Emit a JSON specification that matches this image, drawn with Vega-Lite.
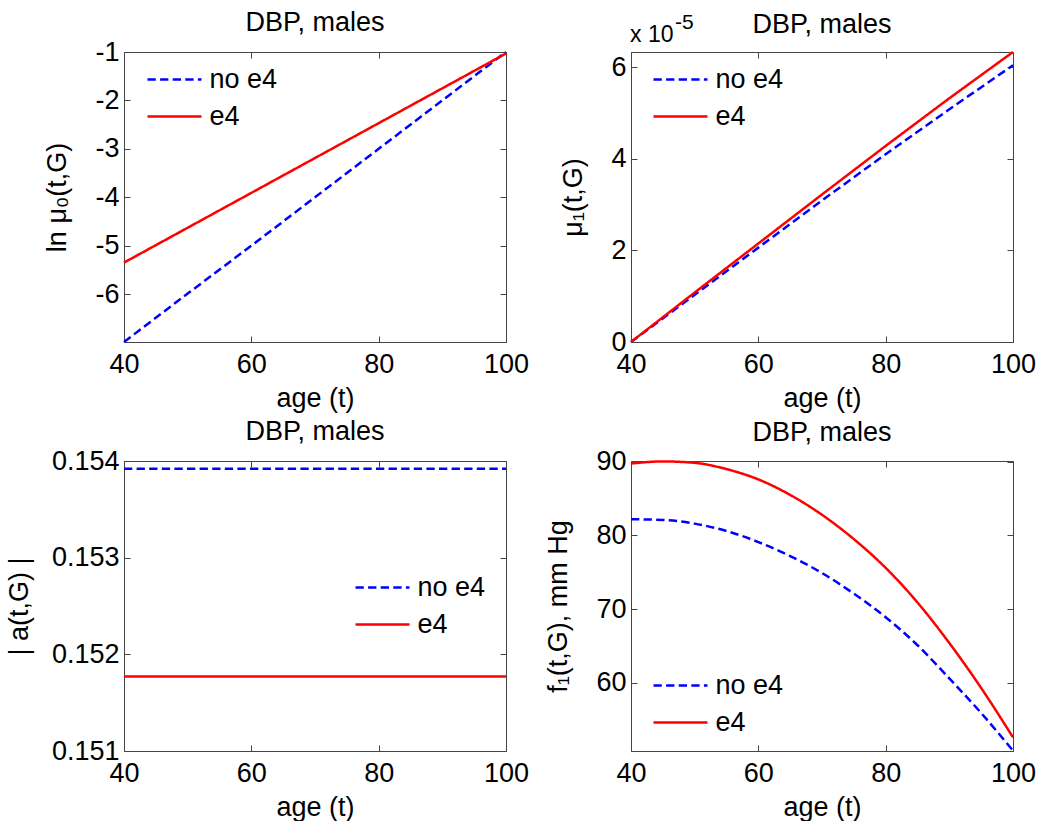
{
  "$schema": "https://vega.github.io/schema/vega-lite/v6.json",
  "autosize": {"type": "pad"},
  "padding": {"left": 4, "top": 8, "right": 0, "bottom": 0},
  "background": "white",
  "columns": 2,
  "spacing": {"row": 119, "column": 125},
  "bounds": "flush",
  "resolve": {"scale": {"color": "independent", "strokeDash": "independent"}, "legend": {"color": "independent", "strokeDash": "independent"}},
  "config": {
    "font": "Liberation Sans",
    "view": {"stroke": "#444444", "strokeWidth": 1},
    "axis": {"labelFontSize": 27, "titleFontSize": 27, "titleFontWeight": "normal", "labelColor": "black", "titleColor": "black", "tickColor": "#444444", "tickSize": -6, "labelPadding": 11, "domain": false, "grid": false, "titlePadding": 23, "labelFlush": false},
    "axisX": {"labelPadding": 15, "titlePadding": 8},
    "title": {"fontSize": 27, "fontWeight": "normal", "color": "black", "frame": "group", "offset": 1},
    "legend": {"labelFontSize": 27, "labelColor": "black"},
    "line": {"strokeWidth": 2.5}
  },
  "concat": [
    {
      "width": 382, "height": 290,
      "title": "DBP, males",
      "data": {"values": [
        {"age": 40, "value": -6.99, "group": "no e4"},
        {"age": 50, "value": -5.99, "group": "no e4"},
        {"age": 60, "value": -5.0, "group": "no e4"},
        {"age": 70, "value": -4.0, "group": "no e4"},
        {"age": 80, "value": -3.0, "group": "no e4"},
        {"age": 90, "value": -2.0, "group": "no e4"},
        {"age": 100, "value": -1.0, "group": "no e4"},
        {"age": 40, "value": -5.35, "group": "e4"},
        {"age": 50, "value": -4.63, "group": "e4"},
        {"age": 60, "value": -3.91, "group": "e4"},
        {"age": 70, "value": -3.19, "group": "e4"},
        {"age": 80, "value": -2.47, "group": "e4"},
        {"age": 90, "value": -1.75, "group": "e4"},
        {"age": 100, "value": -1.03, "group": "e4"}
      ]},
      "layer": [
        {
          "mark": {"type": "line"},
          "encoding": {
            "x": {"field": "age", "type": "quantitative", "scale": {"domain": [40, 100], "nice": false}, "axis": {"values": [40, 60, 80, 100], "title": "age (t)"}},
            "y": {"field": "value", "type": "quantitative", "scale": {"domain": [-6.99, -1], "nice": false, "zero": false}, "axis": {"values": [-6, -5, -4, -3, -2, -1], "labelExpr": "'' + datum.value", "title": "ln  μ₀(t,G)"}},
            "color": {"field": "group", "type": "nominal", "scale": {"domain": ["no e4", "e4"], "range": ["#0000ff", "#ff0000"]},
              "legend": {"title": null, "orient": "none", "legendX": 35.5, "legendY": 12.5, "symbolType": "M-2,0H2", "symbolSize": 729, "symbolStrokeWidth": 2.5, "labelOffset": 20, "rowPadding": 9, "padding": 0}},
            "strokeDash": {"field": "group", "type": "nominal", "scale": {"domain": ["no e4", "e4"], "range": [[8.3, 4.3], [1, 0]]},
              "legend": {"title": null, "orient": "none", "legendX": 35.5, "legendY": 12.5, "symbolType": "M-2,0H2", "symbolSize": 729, "symbolStrokeWidth": 2.5, "labelOffset": 20, "rowPadding": 9, "padding": 0}}
          }
        },
        {
          "mark": {"type": "line", "opacity": 0},
          "encoding": {
            "x": {"field": "age", "type": "quantitative", "axis": {"orient": "top", "values": [40, 60, 80, 100], "labels": false, "title": null}},
            "y": {"field": "value", "type": "quantitative", "axis": {"orient": "right", "values": [-6, -5, -4, -3, -2, -1], "labels": false, "title": null}}
          }
        }
      ],
      "resolve": {"axis": {"x": "independent", "y": "independent"}}
    },
    {
      "width": 382, "height": 290,
      "title": {"text": "DBP, males", "dy": 28},
      "data": {"values": [
        {"age": 40, "value": 0.0, "group": "no e4"},
        {"age": 50, "value": 1.03e-5, "group": "no e4"},
        {"age": 60, "value": 2.06e-5, "group": "no e4"},
        {"age": 70, "value": 3.09e-5, "group": "no e4"},
        {"age": 80, "value": 4.10e-5, "group": "no e4"},
        {"age": 90, "value": 5.08e-5, "group": "no e4"},
        {"age": 100, "value": 6.04e-5, "group": "no e4"},
        {"age": 40, "value": 0.0, "group": "e4"},
        {"age": 50, "value": 1.08e-5, "group": "e4"},
        {"age": 60, "value": 2.15e-5, "group": "e4"},
        {"age": 70, "value": 3.22e-5, "group": "e4"},
        {"age": 80, "value": 4.28e-5, "group": "e4"},
        {"age": 90, "value": 5.32e-5, "group": "e4"},
        {"age": 100, "value": 6.33e-5, "group": "e4"}
      ]},
      "layer": [
        {
          "mark": {"type": "line"},
          "encoding": {
            "x": {"field": "age", "type": "quantitative", "scale": {"domain": [40, 100], "nice": false}, "axis": {"values": [40, 60, 80, 100], "title": "age (t)"}},
            "y": {"field": "value", "type": "quantitative", "scale": {"domain": [0, 6.33e-5], "nice": false}, "axis": {"values": [0, 2e-5, 4e-5, 6e-5], "labelExpr": "'' + round(datum.value*1e5)", "title": "μ₁(t,G)"}},
            "color": {"field": "group", "type": "nominal", "scale": {"domain": ["no e4", "e4"], "range": ["#0000ff", "#ff0000"]},
              "legend": {"title": null, "orient": "none", "legendX": 34.5, "legendY": 12.5, "symbolType": "M-2,0H2", "symbolSize": 729, "symbolStrokeWidth": 2.5, "labelOffset": 20, "rowPadding": 9, "padding": 0}},
            "strokeDash": {"field": "group", "type": "nominal", "scale": {"domain": ["no e4", "e4"], "range": [[8.3, 4.3], [1, 0]]},
              "legend": {"title": null, "orient": "none", "legendX": 34.5, "legendY": 12.5, "symbolType": "M-2,0H2", "symbolSize": 729, "symbolStrokeWidth": 2.5, "labelOffset": 20, "rowPadding": 9, "padding": 0}}
          }
        },
        {
          "mark": {"type": "line", "opacity": 0},
          "encoding": {
            "x": {"field": "age", "type": "quantitative", "axis": {"orient": "top", "values": [40, 60, 80, 100], "labels": false, "title": null}},
            "y": {"field": "value", "type": "quantitative", "axis": {"orient": "right", "values": [0, 2e-5, 4e-5, 6e-5], "labels": false, "title": null}}
          }
        },
        {
          "data": {"values": [{"age": 40, "value": 6.33e-5, "lbl": "x 10"}]},
          "mark": {"type": "text", "align": "left", "baseline": "alphabetic", "dx": -1, "dy": -10, "fontSize": 23},
          "encoding": {
            "x": {"field": "age", "type": "quantitative", "axis": null},
            "y": {"field": "value", "type": "quantitative", "axis": null},
            "text": {"field": "lbl"}
          }
        },
        {
          "data": {"values": [{"age": 40, "value": 6.33e-5, "lbl": "-5"}]},
          "mark": {"type": "text", "align": "left", "baseline": "alphabetic", "dx": 44, "dy": -23, "fontSize": 21},
          "encoding": {
            "x": {"field": "age", "type": "quantitative", "axis": null},
            "y": {"field": "value", "type": "quantitative", "axis": null},
            "text": {"field": "lbl"}
          }
        }
      ],
      "resolve": {"axis": {"x": "independent", "y": "independent"}}
    },
    {
      "width": 382, "height": 290,
      "title": "DBP, males",
      "data": {"values": [
        {"age": 40, "value": 0.15392, "group": "no e4"},
        {"age": 100, "value": 0.15392, "group": "no e4"},
        {"age": 40, "value": 0.15177, "group": "e4"},
        {"age": 100, "value": 0.15177, "group": "e4"}
      ]},
      "layer": [
        {
          "mark": {"type": "line"},
          "encoding": {
            "x": {"field": "age", "type": "quantitative", "scale": {"domain": [40, 100], "nice": false}, "axis": {"values": [40, 60, 80, 100], "title": "age (t)"}},
            "y": {"field": "value", "type": "quantitative", "scale": {"domain": [0.151, 0.154], "nice": false, "zero": false}, "axis": {"values": [0.151, 0.152, 0.153, 0.154], "format": ".3f", "title": "| a(t,G) |", "titlePadding": 18}},
            "color": {"field": "group", "type": "nominal", "scale": {"domain": ["no e4", "e4"], "range": ["#0000ff", "#ff0000"]},
              "legend": {"title": null, "orient": "none", "legendX": 243.5, "legendY": 111.5, "symbolType": "M-2,0H2", "symbolSize": 729, "symbolStrokeWidth": 2.5, "labelOffset": 20, "rowPadding": 9, "padding": 0}},
            "strokeDash": {"field": "group", "type": "nominal", "scale": {"domain": ["no e4", "e4"], "range": [[8.3, 4.3], [1, 0]]},
              "legend": {"title": null, "orient": "none", "legendX": 243.5, "legendY": 111.5, "symbolType": "M-2,0H2", "symbolSize": 729, "symbolStrokeWidth": 2.5, "labelOffset": 20, "rowPadding": 9, "padding": 0}}
          }
        },
        {
          "mark": {"type": "line", "opacity": 0},
          "encoding": {
            "x": {"field": "age", "type": "quantitative", "axis": {"orient": "top", "values": [40, 60, 80, 100], "labels": false, "title": null}},
            "y": {"field": "value", "type": "quantitative", "axis": {"orient": "right", "values": [0.151, 0.152, 0.153, 0.154], "labels": false, "title": null}}
          }
        }
      ],
      "resolve": {"axis": {"x": "independent", "y": "independent"}}
    },
    {
      "width": 382, "height": 290,
      "title": "DBP, males",
      "data": {"values": [
        {"age": 40, "value": 82.2, "group": "no e4"},
        {"age": 45, "value": 82.1, "group": "no e4"},
        {"age": 50, "value": 81.6, "group": "no e4"},
        {"age": 55, "value": 80.6, "group": "no e4"},
        {"age": 60, "value": 79.1, "group": "no e4"},
        {"age": 65, "value": 77.2, "group": "no e4"},
        {"age": 70, "value": 74.9, "group": "no e4"},
        {"age": 75, "value": 72.1, "group": "no e4"},
        {"age": 80, "value": 68.9, "group": "no e4"},
        {"age": 85, "value": 65.1, "group": "no e4"},
        {"age": 90, "value": 60.6, "group": "no e4"},
        {"age": 95, "value": 55.9, "group": "no e4"},
        {"age": 100, "value": 50.8, "group": "no e4"},
        {"age": 40, "value": 89.75, "group": "e4"},
        {"age": 45, "value": 90.04, "group": "e4"},
        {"age": 50, "value": 89.85, "group": "e4"},
        {"age": 55, "value": 89.0, "group": "e4"},
        {"age": 60, "value": 87.6, "group": "e4"},
        {"age": 65, "value": 85.5, "group": "e4"},
        {"age": 70, "value": 82.8, "group": "e4"},
        {"age": 75, "value": 79.5, "group": "e4"},
        {"age": 80, "value": 75.6, "group": "e4"},
        {"age": 85, "value": 70.9, "group": "e4"},
        {"age": 90, "value": 65.4, "group": "e4"},
        {"age": 95, "value": 59.3, "group": "e4"},
        {"age": 100, "value": 52.6, "group": "e4"}
      ]},
      "layer": [
        {
          "mark": {"type": "line", "interpolate": "monotone"},
          "encoding": {
            "x": {"field": "age", "type": "quantitative", "scale": {"domain": [40, 100], "nice": false}, "axis": {"values": [40, 60, 80, 100], "title": "age (t)"}},
            "y": {"field": "value", "type": "quantitative", "scale": {"domain": [50.75, 90.1], "nice": false, "zero": false}, "axis": {"values": [60, 70, 80, 90], "title": "f₁(t,G), mm Hg"}},
            "color": {"field": "group", "type": "nominal", "scale": {"domain": ["no e4", "e4"], "range": ["#0000ff", "#ff0000"]},
              "legend": {"title": null, "orient": "none", "legendX": 34.5, "legendY": 209.5, "symbolType": "M-2,0H2", "symbolSize": 729, "symbolStrokeWidth": 2.5, "labelOffset": 20, "rowPadding": 9, "padding": 0}},
            "strokeDash": {"field": "group", "type": "nominal", "scale": {"domain": ["no e4", "e4"], "range": [[8.3, 4.3], [1, 0]]},
              "legend": {"title": null, "orient": "none", "legendX": 34.5, "legendY": 209.5, "symbolType": "M-2,0H2", "symbolSize": 729, "symbolStrokeWidth": 2.5, "labelOffset": 20, "rowPadding": 9, "padding": 0}}
          }
        },
        {
          "mark": {"type": "line", "opacity": 0},
          "encoding": {
            "x": {"field": "age", "type": "quantitative", "axis": {"orient": "top", "values": [40, 60, 80, 100], "labels": false, "title": null}},
            "y": {"field": "value", "type": "quantitative", "axis": {"orient": "right", "values": [60, 70, 80, 90], "labels": false, "title": null}}
          }
        }
      ],
      "resolve": {"axis": {"x": "independent", "y": "independent"}}
    }
  ]
}
